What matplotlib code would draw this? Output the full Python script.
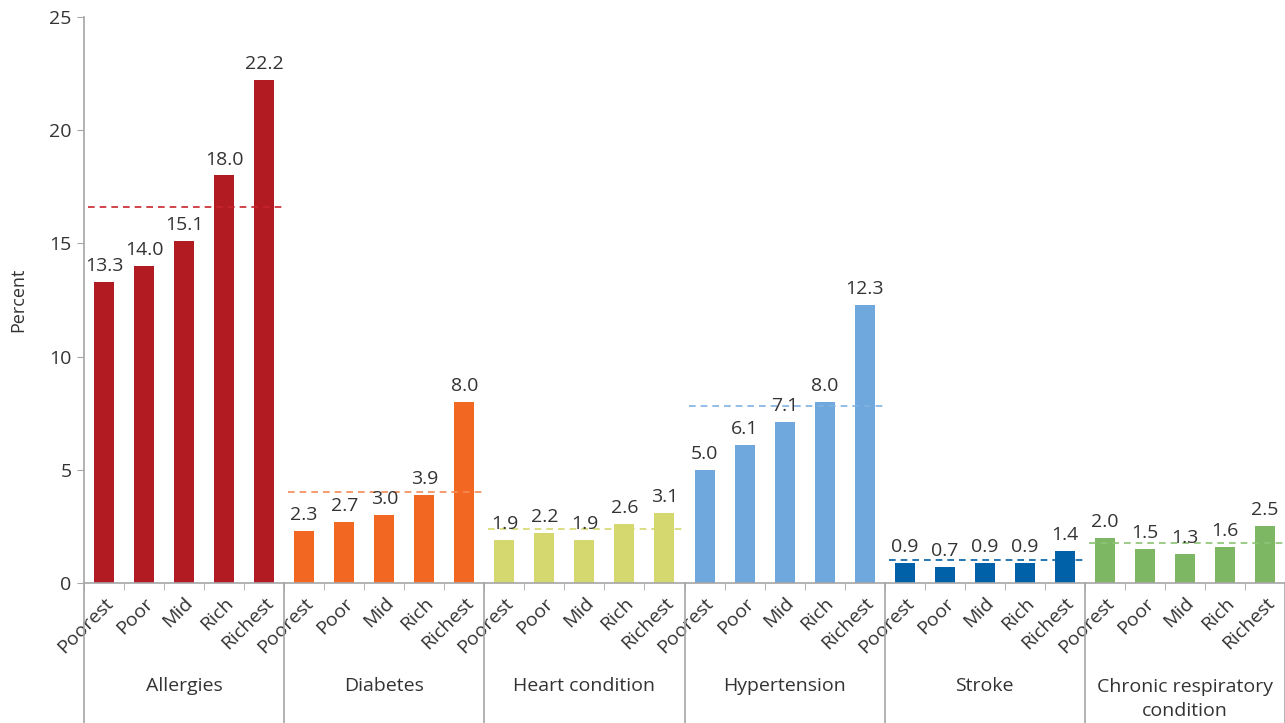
import matplotlib
matplotlib.use("Agg")
import matplotlib.pyplot as plt
import numpy as np

plt.rcParams['font.family'] = ['Open Sans', 'DejaVu Sans']

conditions = ["Allergies", "Diabetes", "Heart condition", "Hypertension",
              "Stroke", "Chronic respiratory\ncondition"]
quintiles = ["Poorest", "Poor", "Mid", "Rich", "Richest"]
allergies = [13.3, 14.0, 15.1, 18.0, 22.2]
diabetes = [2.3, 2.7, 3.0, 3.9, 8.0]
heart = [1.9, 2.2, 1.9, 2.6, 3.1]
hypertension = [5.0, 6.1, 7.1, 8.0, 12.3]
stroke = [0.9, 0.7, 0.9, 0.9, 1.4]
respiratory = [2.0, 1.5, 1.3, 1.6, 2.5]
averages = [16.6, 4.0, 2.4, 7.8, 1.0, 1.75]
yticks = [0, 5, 10, 15, 20, 25]

series = [allergies, diabetes, heart, hypertension, stroke, respiratory]
colors = ["#B31B23", "#F26722", "#D4D86F", "#6FA8DC", "#0060A8", "#7DB764"]
avg_colors = ["#C8242C", "#F28A55", "#D4D86F", "#7FB2E0", "#0060A8", "#8CC274"]

text_color = "#333333"
axis_color = "#A6A6A6"

fig = plt.figure(figsize=(12.85, 7.23), dpi=100)
ax = fig.add_axes([84 / 1285, 1 - 583 / 723, 1 - 84 / 1285, (583 - 17) / 723])

n = len(quintiles)
for g, (vals, col) in enumerate(zip(series, colors)):
    x = np.arange(n) + g * n
    ax.bar(x, vals, width=0.5, color=col, zorder=2)
    for xi, v in zip(x, vals):
        ax.annotate(f"{v:.1f}", (xi, v), xytext=(0, 5), textcoords="offset points",
                    ha="center", va="bottom", fontsize=14, color=text_color, zorder=4)
    ax.plot([g * n - 0.4, g * n + n - 0.5], [averages[g]] * 2, color=avg_colors[g],
            linestyle=(0, (4, 3)), linewidth=1.2, zorder=3)

total = n * len(series)
ax.set_xlim(-0.5, total - 0.5)
ax.set_ylim(0, 25)
ax.set_yticks(yticks)
ax.set_yticklabels([str(t) for t in yticks], fontsize=14, color=text_color)
ax.set_ylabel("Percent", fontsize=13, color=text_color, labelpad=16)

ax.set_xticks(np.arange(total))
ax.set_xticklabels(quintiles * len(series), rotation=45, ha="right",
                   rotation_mode="anchor", fontsize=14, color=text_color)
ax.tick_params(axis="x", which="major", length=0, pad=8)
ax.set_xticks(np.arange(total + 1) - 0.5, minor=True)
ax.tick_params(axis="x", which="minor", length=5, color=axis_color)
ax.tick_params(axis="y", length=5, color=axis_color, pad=4)

for s in ["top", "right"]:
    ax.spines[s].set_visible(False)
for s in ["left", "bottom"]:
    ax.spines[s].set_color(axis_color)
    ax.spines[s].set_linewidth(1.2)

# group separators and group names under the quintile labels
trans = ax.get_xaxis_transform()
sep_bottom = -(723 - 583) / 566
for g in range(len(series) + 1):
    xb = g * n - 0.5
    ax.plot([xb, xb], [0, sep_bottom], color=axis_color, linewidth=1.2,
            transform=trans, clip_on=False)
for g, name in enumerate(conditions):
    yy = -(686 - 583) / 566 if "\n" not in name else -(699 - 583) / 566
    ax.text(g * n + (n - 1) / 2, yy, name, transform=trans, ha="center",
            va="center", fontsize=14, color=text_color, linespacing=1.45)

fig.savefig("out.png", dpi=100)
